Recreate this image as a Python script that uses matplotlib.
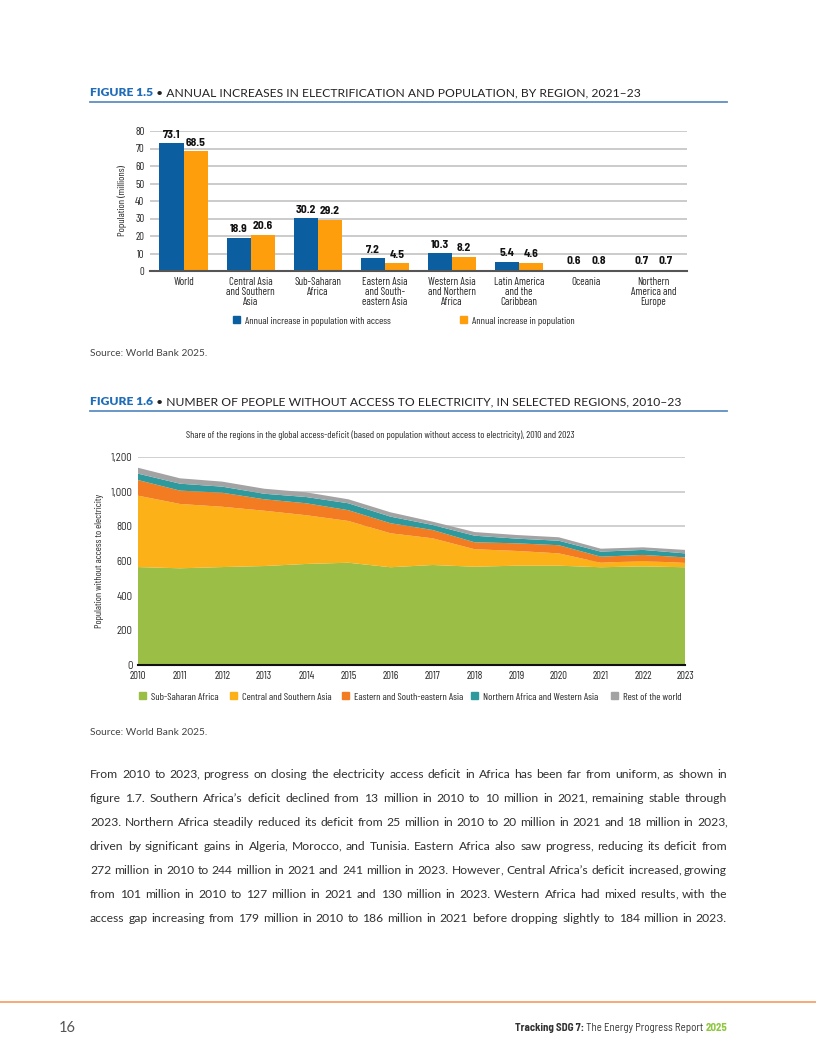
import numpy as np
import matplotlib
matplotlib.use("Agg")
import matplotlib.pyplot as plt
from matplotlib.patches import Patch

# ---- data: figure 1.5 ----
regions = ["World", "Central Asia\nand Southern\nAsia", "Sub-Saharan\nAfrica",
           "Eastern Asia\nand South-\neastern Asia", "Western Asia\nand Northern\nAfrica",
           "Latin America\nand the\nCaribbean", "Oceania", "Northern\nAmerica and\nEurope"]
with_access = [73.1, 18.9, 30.2, 7.2, 10.3, 5.4, 0.6, 0.7]
population = [68.5, 20.6, 29.2, 4.5, 8.2, 4.6, 0.8, 0.7]

# ---- data: figure 1.6 (millions without access) ----
years = list(range(2010, 2024))
ssa = [565, 558, 565, 571, 583, 590, 564, 577, 567, 573, 573, 564, 569, 564]
csa = [412, 371, 348, 319, 281, 241, 196, 154, 101, 85, 71, 26, 31, 25]
esea = [90, 77, 81, 66, 69, 62, 58, 48, 40, 44, 47, 35, 35, 32]
nawa = [37, 40, 35, 32, 36, 40, 38, 29, 38, 27, 26, 29, 29, 23]
rest = [34, 31, 29, 29, 27, 23, 25, 19, 21, 21, 20, 17, 15, 20]
area_labels = ["Sub-Saharan Africa", "Central and Southern Asia", "Eastern and South-eastern Asia",
               "Northern Africa and Western Asia", "Rest of the world"]
area_yticks = [0, 200, 400, 600, 800, 1000, 1200]

body = [
    "From 2010 to 2023, progress on closing the electricity access deficit in Africa has been far from uniform, as shown in",
    "figure 1.7. Southern Africa\u2019s deficit declined from 13 million in 2010 to 10 million in 2021, remaining stable through",
    "2023. Northern Africa steadily reduced its deficit from 25 million in 2010 to 20 million in 2021 and 18 million in 2023,",
    "driven by significant gains in Algeria, Morocco, and Tunisia. Eastern Africa also saw progress, reducing its deficit from",
    "272 million in 2010 to 244 million in 2021 and 241 million in 2023. However, Central Africa\u2019s deficit increased, growing",
    "from 101 million in 2010 to 127 million in 2021 and 130 million in 2023. Western Africa had mixed results, with the",
    "access gap increasing from 179 million in 2010 to 186 million in 2021 before dropping slightly to 184 million in 2023.",
]

W, H = 816, 1056
BLUE = "#0b5fa0"
ORANGE = "#ff9e0c"
area_colors = ["#9bbf46", "#fbb117", "#f37b21", "#2f9a9e", "#a3a3a3"]
NARROW = ["Barlow Condensed", "Roboto", "DejaVu Sans"]
SEMI = ["Barlow Semi Condensed", "Roboto", "DejaVu Sans"]
BODY = ["Lato", "DejaVu Sans"]
TXT = "#262626"
CS = 7.8   # tick label size
LS = 7.4   # legend size


def fx(x):
    return x / W


def fy(y):
    return 1 - y / H


fig = plt.figure(figsize=(W / 100, H / 100), dpi=100)
renderer = fig.canvas.get_renderer()


def width_of(s, **kw):
    t = fig.text(0, 0, s, **kw)
    w = t.get_window_extent(renderer).width
    t.remove()
    return w


def rich(x, y, parts, right=False):
    widths = [width_of(s, **kw) for s, kw in parts]
    if right:
        x = x - sum(widths)
    for (s, kw), w in zip(parts, widths):
        fig.text(fx(x), fy(y), s, va="baseline", **kw)
        x += w


def title(y, num, rest):
    bold = dict(fontsize=8.7, family=BODY, fontweight="heavy", color="#1f6db8")
    reg = dict(fontsize=8.7, family=BODY, color="#222222")
    rich(90, y, [(num, bold), (" \u2022 " + rest, reg)])
    fig.add_artist(plt.Line2D([fx(90), fx(727)], [fy(y + 6), fy(y + 6)], color="#5d8fc0", lw=1.3))


def legend_item(x, y, color, label):
    lg = fig.legend(handles=[Patch(color=color, label=label)], loc="center left",
                    bbox_to_anchor=(fx(x), fy(y)), frameon=False, borderpad=0, borderaxespad=0,
                    prop={"family": NARROW, "size": LS}, handlelength=0.65, handleheight=0.65,
                    handletextpad=0.55)
    lg.get_texts()[0].set_color(TXT)


# ---- figure 1.5 ----
title(96, "FIGURE 1.5", "ANNUAL INCREASES IN ELECTRIFICATION AND POPULATION, BY REGION, 2021\u201323")

ax1 = fig.add_axes([fx(150), fy(271), (687 - 150) / W, (271 - 131) / H])
x = np.arange(len(regions))
bw = 0.36
b1 = ax1.bar(x - bw / 2, with_access, bw, color=BLUE, zorder=3)
b2 = ax1.bar(x + bw / 2, population, bw, color=ORANGE, zorder=3)
for bars, vals in ((b1, with_access), (b2, population)):
    for r, v in zip(bars, vals):
        ax1.annotate(f"{v:.1f}", (r.get_x() + r.get_width() / 2, v), xytext=(0, 2.5),
                     textcoords="offset points", ha="center", va="bottom",
                     fontsize=8.4, fontweight="bold", family=SEMI, color="#111111")
ax1.set_xlim(-0.5, len(regions) - 0.5)
ax1.set_ylim(0, 80)
ax1.set_yticks(range(0, 81, 10))
ax1.set_xticks(x)
ax1.set_xticklabels(regions, family=NARROW, fontsize=CS, color=TXT, linespacing=1.05)
for lab in ax1.get_yticklabels():
    lab.set_family(NARROW)
ax1.tick_params(axis="y", length=0, labelsize=CS, labelcolor=TXT, pad=4)
ax1.tick_params(axis="x", length=0, pad=4)
ax1.grid(axis="y", color="#c2c2c2", lw=1.2, zorder=0)
for s in ("top", "right", "left"):
    ax1.spines[s].set_visible(False)
ax1.spines["bottom"].set_color("#555555")
ax1.spines["bottom"].set_linewidth(1.5)
ax1.spines["bottom"].set_zorder(4)
ax1.set_ylabel("Population (millions)", family=NARROW, fontsize=LS, color=TXT, labelpad=6)

legend_item(233, 321, BLUE, "Annual increase in population with access")
legend_item(460, 321, ORANGE, "Annual increase in population")

fig.text(fx(90), fy(356), "Source: World Bank 2025.", family=BODY, fontsize=7.3, color="#444444")

# ---- figure 1.6 ----
title(405, "FIGURE 1.6", "NUMBER OF PEOPLE WITHOUT ACCESS TO ELECTRICITY, IN SELECTED REGIONS, 2010\u201323")
fig.text(fx(380), fy(435), "Share of the regions in the global access-deficit (based on population without access to electricity), 2010 and 2023",
         ha="center", va="center", family=NARROW, fontsize=7.2, color=TXT)

ax2 = fig.add_axes([fx(138), fy(665), (685 - 138) / W, (665 - 457) / H])
ax2.stackplot(years, ssa, csa, esea, nawa, rest, colors=area_colors, labels=area_labels,
              zorder=3, edgecolor="none")
ax2.set_xlim(2010, 2023)
ax2.set_ylim(0, 1200)
ax2.set_yticks(area_yticks)
ax2.set_yticklabels([f"{v:,}" for v in area_yticks], family=SEMI)
ax2.set_xticks(years)
ax2.set_xticklabels([str(y) for y in years], family=NARROW)
ax2.tick_params(length=0, labelsize=CS, labelcolor=TXT)
ax2.tick_params(axis="y", pad=4)
ax2.tick_params(axis="x", pad=4)
ax2.grid(axis="y", color="#c8c8c8", lw=1.2, zorder=0)
for s in ("top", "right", "left"):
    ax2.spines[s].set_visible(False)
ax2.spines["bottom"].set_color("#111111")
ax2.spines["bottom"].set_linewidth(1.5)
ax2.spines["bottom"].set_zorder(4)
ax2.set_ylabel("Population without access to electricity", family=NARROW, fontsize=7.2,
               color=TXT, labelpad=5)

for xpos, c, l in zip([139, 230, 342, 471, 611], area_colors, area_labels):
    legend_item(xpos, 697, c, l)

fig.text(fx(90), fy(735), "Source: World Bank 2025.", family=BODY, fontsize=7.3, color="#444444")

# ---- body text, justified ----
# trailing commas are drawn as their own text so every word sits on the same baseline
left, right = 90, 727
bkw = dict(family=BODY, fontsize=10, color="#303030")
widest = max(width_of(l, **bkw) for l in body)
bkw["fontsize"] = 10 * (right - left - 4) / widest
comma_w = width_of(",", **bkw)
for i, line in enumerate(body):
    yb = 778 + 24 * i
    words = line.split(" ")
    cores = [w.rstrip(",") for w in words]
    core_w = [width_of(c, **bkw) for c in cores]
    ws = [cw + (comma_w - 1 if w.endswith(",") else 0) for w, cw in zip(words, core_w)]
    gap = (right - left - sum(ws)) / (len(words) - 1)
    xx = left
    for w, c, cw, wd in zip(words, cores, core_w, ws):
        fig.text(fx(xx), fy(yb), c, va="baseline", **bkw)
        if w.endswith(","):
            fig.text(fx(xx + cw - 1), fy(yb), ",", va="baseline", **bkw)
        xx += wd + gap

# ---- footer ----
fig.add_artist(plt.Line2D([0, 1], [fy(1002), fy(1002)], color="#f7a36a", lw=1.3))
fig.text(fx(59), fy(1032), "16", family=BODY, fontsize=10.5, color="#555555", va="baseline")
rich(727, 1031, [("Tracking SDG 7:", dict(family=SEMI, fontsize=7.8, fontweight="bold", color="#333333")),
                 (" The Energy Progress Report ", dict(family=SEMI, fontsize=7.8, color="#333333")),
                 ("2025", dict(family=SEMI, fontsize=7.8, fontweight="bold", color="#8dc63f"))], right=True)

fig.savefig("out.png", dpi=100)
